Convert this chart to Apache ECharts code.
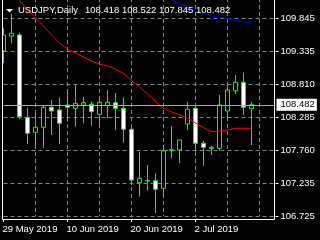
<!DOCTYPE html>
<html><head><meta charset="utf-8">
<script src="https://cdn.jsdelivr.net/npm/echarts@6/dist/echarts.min.js"></script>
<style>html,body{margin:0;padding:0;background:#000;}#c{width:320px;height:240px;}</style>
</head><body><div id="c"></div>
<script>
// ---- data ----
const symbolName = 'USDJPY,Daily';
const dates = ['29 May 2019','30 May 2019','31 May 2019',
  '3 Jun 2019','4 Jun 2019','5 Jun 2019','6 Jun 2019','7 Jun 2019',
  '10 Jun 2019','11 Jun 2019','12 Jun 2019','13 Jun 2019','14 Jun 2019',
  '17 Jun 2019','18 Jun 2019','19 Jun 2019','20 Jun 2019','21 Jun 2019',
  '24 Jun 2019','25 Jun 2019','26 Jun 2019','27 Jun 2019','28 Jun 2019',
  '1 Jul 2019','2 Jul 2019','3 Jul 2019','4 Jul 2019','5 Jul 2019',
  '8 Jul 2019','9 Jul 2019','10 Jul 2019','11 Jul 2019',
  '12 Jul 2019','15 Jul 2019','16 Jul 2019'];
const opens  = [109.333,109.565,109.581,108.283,108.046,108.125,108.440,108.398,108.477,108.425,108.472,108.488,108.330,108.466,108.513,108.425,108.093,107.250,107.280,107.282,107.162,107.762,107.767,108.177,108.425,107.872,107.787,107.793,108.382,108.702,108.835,108.418];
const closes = [109.581,109.608,108.292,108.030,108.125,108.440,108.382,108.188,108.440,108.503,108.513,108.371,108.519,108.519,108.425,108.093,107.293,107.320,107.284,107.146,107.755,107.771,107.924,108.409,107.872,107.809,107.809,108.477,108.713,108.835,108.440,108.482];
const lows   = [109.135,109.450,108.256,107.861,107.793,107.803,108.003,107.861,108.213,108.134,108.188,108.150,108.134,108.271,108.082,107.882,107.214,107.030,107.124,106.768,107.030,107.636,107.557,108.082,107.740,107.519,107.688,107.755,108.267,108.650,108.319,107.845];
const highs  = [109.687,109.913,109.618,108.434,108.346,108.461,108.556,108.598,108.713,108.792,108.608,108.529,108.582,108.713,108.666,108.598,108.134,107.740,107.530,107.399,107.845,108.145,107.930,108.529,108.461,107.909,107.830,108.634,108.792,108.950,108.986,108.522];
const maRed  = [110.433,110.276,110.126,109.984,109.850,109.723,109.581,109.455,109.360,109.297,109.234,109.171,109.124,109.092,109.045,108.974,108.863,108.761,108.650,108.532,108.421,108.366,108.327,108.264,108.193,108.122,108.051,108.066,108.082,108.109,108.109,108.109];
const maBlue = [null,null,null,null,null,null,null,null,null,null,null,null,null,null,null,null,null,null,null,null,110.197,110.134,110.078,110.031,109.968,109.913,109.878,109.862,109.845,109.815,109.793,109.768];
const yTickLabels = ['106.725','107.235','107.760','108.285','108.810','109.335','109.845'];
const yMin = 106.725, yStep = 0.52, yMax = 110.165;

// ---- build ----
const FONT = '"Liberation Sans",Arial,sans-serif';
const FS = 9.5;
const candles = opens.map((o, i) => [o, closes[i], lows[i], highs[i]]);
const last = opens.length - 1;
const ohlcText = [opens[last], highs[last], lows[last], closes[last]].map(v => v.toFixed(3)).join(' ');
const gridColor = '#778899';

const chart = echarts.init(document.getElementById('c'), null, {renderer: 'canvas'});
chart.setOption({
  animation: false,
  backgroundColor: '#000',
  grid: {left: 3.5, right: 44.5, top: -2, bottom: 24, containLabel: false, outerBoundsMode: 'none'},
  xAxis: {
    type: 'category', data: dates, boundaryGap: false, offset: 3,
    axisLine: {show: false},
    axisTick: {show: true, length: 3, lineStyle: {color: '#fff'},
      interval: (i) => i % 8 === 0 && i <= 24},
    axisLabel: {show: true, color: '#fff', fontFamily: FONT, fontSize: FS, align: 'left', margin: 5,
      padding: [0, 0, 0, -1],
      interval: (i) => i % 8 === 0 && i <= 24},
    splitLine: {show: true, lineStyle: {color: gridColor, type: [4, 3], width: 1},
      interval: (i) => i > 0 && i % 4 === 0}
  },
  yAxis: {
    type: 'value', position: 'right', min: yMin, max: yMax, interval: yStep, scale: true,
    axisLine: {show: false},
    axisTick: {show: true, length: 3, lineStyle: {color: '#fff'}},
    axisLabel: {color: '#fff', fontFamily: FONT, fontSize: FS, margin: 5,
      formatter: (v, i) => (yTickLabels[i] !== undefined ? yTickLabels[i] : '')},
    splitLine: {show: true, lineStyle: {color: gridColor, type: [4, 3], width: 1}}
  },
  series: [
    {type: 'candlestick', data: candles, barWidth: 4, clip: false,
      itemStyle: {color: '#000', color0: '#fff', borderColor: '#00ff00', borderColor0: '#00ff00', borderWidth: 1},
      markLine: {symbol: ['none', 'none'], silent: true, animation: false,
        data: [{yAxis: closes[last]}],
        lineStyle: {color: '#a8a8a8', type: 'solid', width: 1},
        label: {position: 'end', distance: 1, color: '#000', backgroundColor: '#fff',
          fontFamily: FONT, fontSize: FS, padding: [1, 2, 1, 4],
          formatter: () => closes[last].toFixed(3)}
      }
    },
    {type: 'line', data: maRed, symbol: 'none', lineStyle: {color: '#ff0000', width: 1}, z: 3},
    {type: 'line', data: maBlue, symbol: 'none', lineStyle: {color: '#0000ff', width: 1}, z: 3}
  ],
  graphic: [
    {type: 'rect', z: 50, shape: {x: 0, y: 0, width: 2, height: 220}, style: {fill: '#000'}},
    {type: 'rect', z: 51, shape: {x: 2.5, y: -2, width: 272, height: 221.5}, style: {fill: null, stroke: '#fff', lineWidth: 1}},
    {type: 'polygon', z: 52, shape: {points: [[6, 9], [13, 9], [9.5, 12.5]]}, style: {fill: '#fff'}},
    {type: 'text', z: 52, x: 18, y: 10.5, style: {text: symbolName, fill: '#fff', font: FS + 'px ' + FONT, verticalAlign: 'middle'}},
    {type: 'text', z: 52, x: 85, y: 10.5, style: {text: ohlcText, fill: '#fff', font: FS + 'px ' + FONT, verticalAlign: 'middle'}}
  ]
});
</script></body></html>
